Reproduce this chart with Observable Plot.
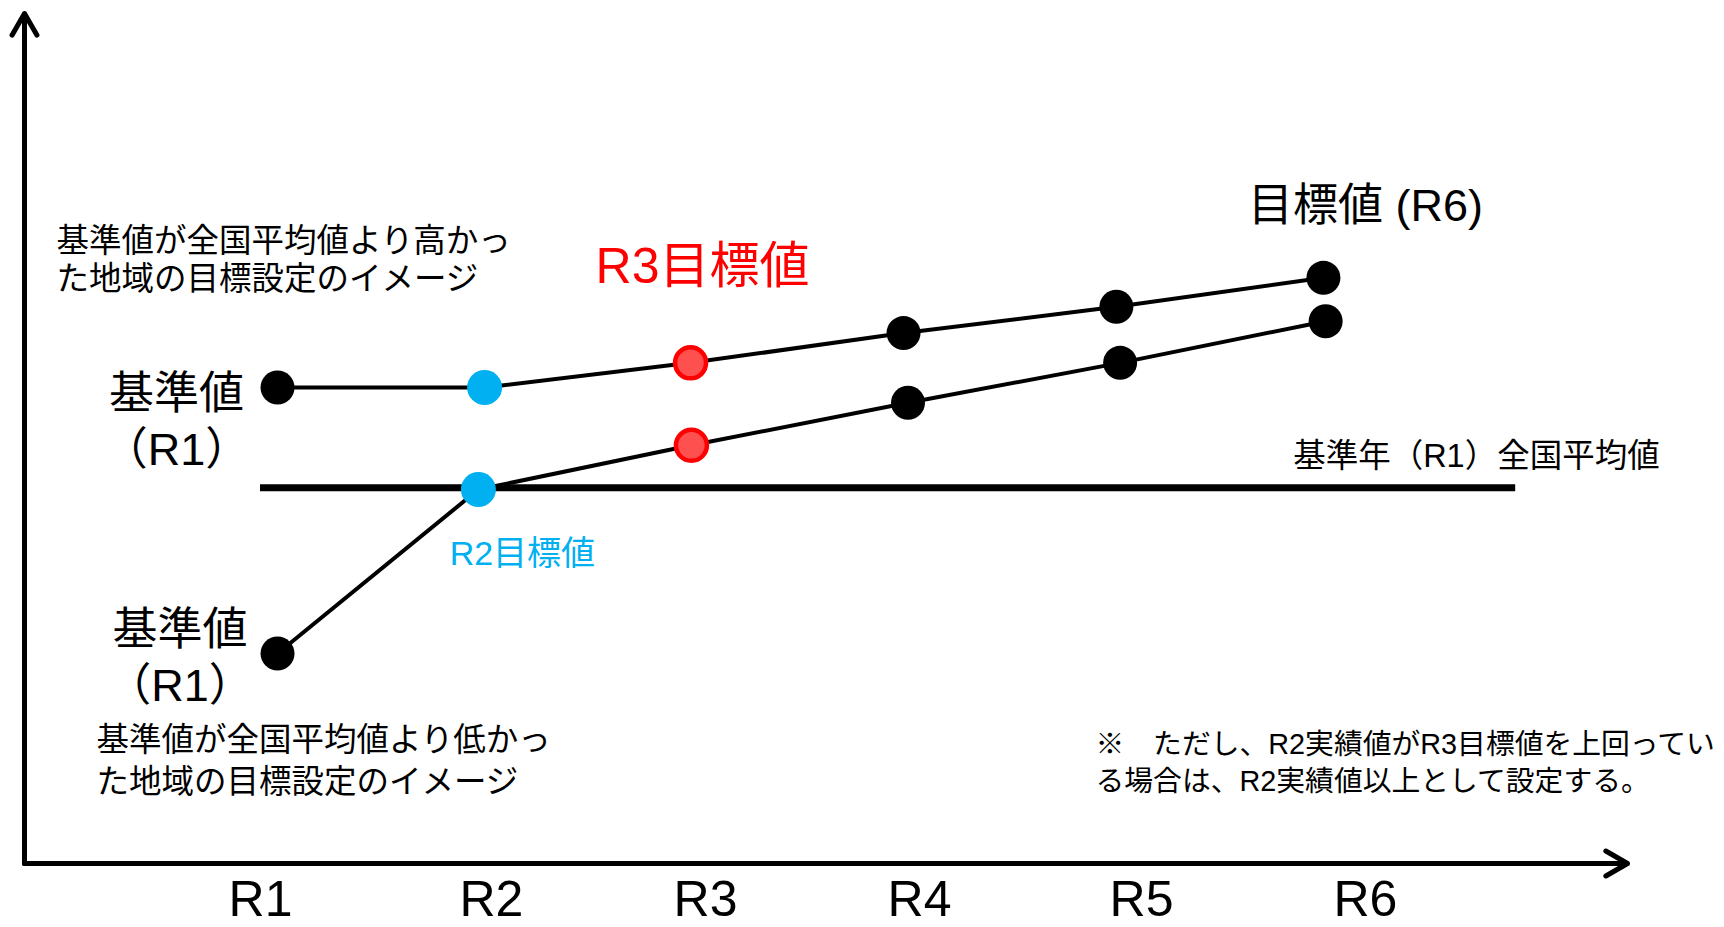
<!DOCTYPE html>
<html><head><meta charset="utf-8">
<script src="https://cdn.jsdelivr.net/npm/d3@7"></script>
<script src="https://cdn.jsdelivr.net/npm/@observablehq/plot@0.6"></script>
<style>html,body{margin:0;padding:0;background:#fff;overflow:hidden}</style>
</head><body><div id="chart"></div>
<script>
// ---- data ----
const years = ["R1", "R2", "R3", "R4", "R5", "R6"];
// where each year label sits along the horizontal axis
const tickPos = [1, 2.045, 3.014, 3.982, 4.987, 6.0];
// 基準値が全国平均値より高かった地域
const upperX = [1.077, 2.014, 2.946, 3.91, 4.873, 5.81];
const upperY = [56.0, 56.0, 58.9, 62.4, 65.5, 68.9];
// 基準値が全国平均値より低かった地域
const lowerX = [1.077, 1.986, 2.95, 3.93, 4.89, 5.82];
const lowerY = [24.7, 44.0, 49.2, 54.2, 58.9, 63.8];
const pointKind = ["base", "r2", "r3", "target", "target", "target"];
// 基準年(R1) 全国平均値
const nationalAvg = 44.2;
const avgSpan = [1.0, 6.68];
const xDomain = [-0.068, 7.186];
const yDomain = [0, 100];

const rows = [];
years.forEach((yr, i) => {
  rows.push({series: "upper", year: yr, x: upperX[i], y: upperY[i], kind: pointKind[i]});
  rows.push({series: "lower", year: yr, x: lowerX[i], y: lowerY[i], kind: pointKind[i]});
});

const FONT = "'Liberation Sans', Arial, 'Noto Sans CJK JP', sans-serif";
const BLUE = "#00b0f0";

const chart = Plot.plot({
  width: 1724,
  height: 927,
  marginLeft: 24,
  marginRight: 97,
  marginTop: 13,
  marginBottom: 64,
  x: {type: "linear", domain: xDomain, label: null},
  y: {type: "linear", domain: yDomain, axis: null, label: null},
  style: {fontFamily: FONT, background: "white", color: "black", overflow: "visible"},
  marks: [
    // axes drawn as arrows
    Plot.arrow([{x1: xDomain[0], y1: yDomain[0], x2: xDomain[0], y2: yDomain[1]}],
      {x1: "x1", y1: "y1", x2: "x2", y2: "y2", stroke: "black", strokeWidth: 5, headLength: 7.5, headAngle: 60}),
    Plot.arrow([{x1: xDomain[0], y1: yDomain[0], x2: xDomain[1], y2: yDomain[0]}],
      {x1: "x1", y1: "y1", x2: "x2", y2: "y2", stroke: "black", strokeWidth: 5, headLength: 7.5, headAngle: 60}),
    Plot.axisX(tickPos, {tickSize: 0, tickPadding: 17, label: null,
      tickFormat: d => years[tickPos.indexOf(d)], fontSize: 50, fontFamily: FONT}),
    // national average
    Plot.ruleY([nationalAvg], {x1: avgSpan[0], x2: avgSpan[1], stroke: "black", strokeWidth: 7}),
    // series lines
    Plot.line(rows, {x: "x", y: "y", z: "series", stroke: "black", strokeWidth: 4}),
    // points
    Plot.dot(rows, {filter: d => d.kind === "base" || d.kind === "target", x: "x", y: "y", r: 17, fill: "black"}),
    Plot.dot(rows, {filter: d => d.kind === "r2", x: "x", y: "y", r: 17.5, fill: BLUE}),
    Plot.dot(rows, {filter: d => d.kind === "r3", x: "x", y: "y", r: 15.5, fill: "#ff5050", stroke: "#ff0000", strokeWidth: 4.5}),
    // labels anchored to points
    Plot.text(["基準値\n（R1）"], {x: upperX[0], y: upperY[0], text: d => d, dx: -101, dy: 31.5,
      textAnchor: "middle", lineAnchor: "middle", lineHeight: 1.24, fontSize: 45}),
    Plot.text(["基準値\n（R1）"], {x: lowerX[0], y: lowerY[0], text: d => d, dx: -97.5, dy: 1.5,
      textAnchor: "middle", lineAnchor: "middle", lineHeight: 1.24, fontSize: 45}),
    Plot.text(["R3目標値"], {x: upperX[2], y: upperY[2], text: d => d, dx: 12, dy: -96,
      textAnchor: "middle", lineAnchor: "middle", fontSize: 50, fill: "#ff0000"}),
    Plot.text(["R2目標値"], {x: lowerX[1], y: lowerY[1], text: d => d, dx: 44, dy: 65,
      textAnchor: "middle", lineAnchor: "middle", fontSize: 34, fill: BLUE}),
    Plot.text(["目標値 (R6)"], {x: upperX[5], y: upperY[5], text: d => d, dx: 42, dy: -71,
      textAnchor: "middle", lineAnchor: "middle", fontSize: 45}),
    Plot.text(["基準年（R1）全国平均値"], {x: avgSpan[1], y: nationalAvg, text: d => d, dx: 144, dy: -31,
      textAnchor: "end", lineAnchor: "middle", fontSize: 32.5}),
    // free annotations
    Plot.text(["基準値が全国平均値より高かっ\nた地域の目標設定のイメージ"], {frameAnchor: "top-left", text: d => d,
      dx: 32, dy: 245, textAnchor: "start", lineAnchor: "middle", lineHeight: 1.17, fontSize: 32.5}),
    Plot.text(["基準値が全国平均値より低かっ\nた地域の目標設定のイメージ"], {frameAnchor: "top-left", text: d => d,
      dx: 72, dy: 745, textAnchor: "start", lineAnchor: "middle", lineHeight: 1.29, fontSize: 32.5}),
    Plot.text(["※　ただし、R2実績値がR3目標値を上回ってい\nる場合は、R2実績値以上として設定する。"], {frameAnchor: "top-left", text: d => d,
      dx: 1071, dy: 747.5, textAnchor: "start", lineAnchor: "middle", lineHeight: 1.285, fontSize: 28.8})
  ]
});
document.getElementById("chart").appendChild(chart);
</script>
</body></html>
